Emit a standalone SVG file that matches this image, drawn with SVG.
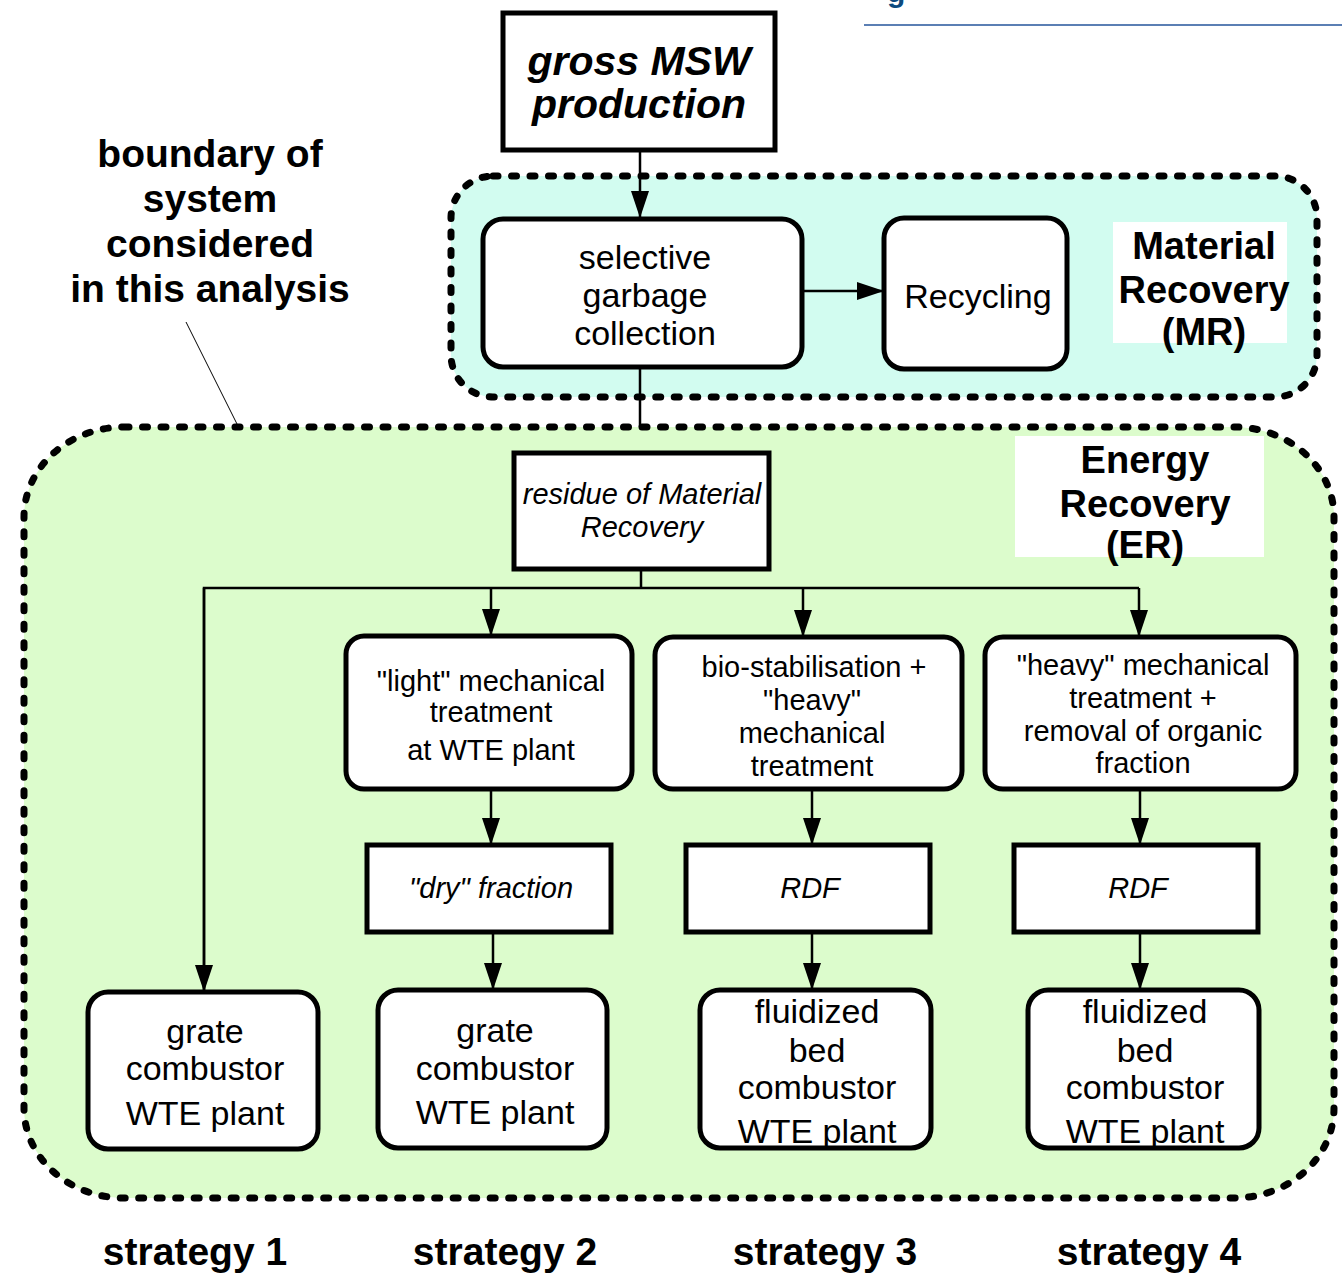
<svg xmlns="http://www.w3.org/2000/svg" width="1342" height="1283" viewBox="0 0 1342 1283">
  <style>
    .t { font-family: "Liberation Sans", Arial, sans-serif; fill: #000; text-anchor: middle; }
    .b { font-weight: bold; }
    .i { font-style: italic; }
    .s34 { font-size: 34px; }
    .s29 { font-size: 29px; }
    .s38 { font-size: 38px; }
    .s39 { font-size: 39px; }
    .box { fill: #fff; stroke: #000; stroke-width: 5; }
    .zone { stroke: #000; stroke-width: 7; stroke-dasharray: 5 13.5; stroke-linecap: round; }
    .conn { fill: none; stroke: #000; stroke-width: 2.5; }
    .lab { fill: #fff; }
  </style>
  <defs>
    <marker id="ah" markerUnits="userSpaceOnUse" markerWidth="28" markerHeight="20" refX="27" refY="9" orient="auto">
      <path d="M0,0 L27,9 L0,18 z" fill="#000"/>
    </marker>
  </defs>

  <rect width="1342" height="1283" fill="#fff"/>

  <!-- page header remnant -->
  <text x="887" y="2" font-family="Liberation Sans, Arial, sans-serif" font-weight="bold" font-size="30" fill="#0d4a7e">g</text>
  <line x1="864" y1="25" x2="1342" y2="25" stroke="#5b7fb4" stroke-width="2"/>

  <!-- system boundaries -->
  <g id="zone-er">
    <rect class="zone" x="24" y="427" width="1310" height="771" rx="100" ry="90" fill="#dcfccc"/>
    <rect class="lab" x="1015" y="436" width="249" height="121"/>
    <text class="t b s38" x="1145" y="473">Energy</text>
    <text class="t b s38" x="1145" y="517">Recovery</text>
    <text class="t b s38" x="1145" y="558">(ER)</text>
  </g>
  <g id="zone-mr">
    <rect class="zone" x="451" y="176" width="866" height="221" rx="42" ry="42" fill="#d2fcf0"/>
    <rect class="lab" x="1113" y="222" width="174" height="121"/>
    <text class="t b s38" x="1204" y="259">Material</text>
    <text class="t b s38" x="1204" y="303">Recovery</text>
    <text class="t b s38" x="1204" y="345">(MR)</text>
  </g>

  <!-- boundary annotation -->
  <g id="boundary-note">
    <text class="t b s39" x="210" y="167">boundary of</text>
    <text class="t b s39" x="210" y="212">system</text>
    <text class="t b s39" x="210" y="257">considered</text>
    <text class="t b s39" x="210" y="302">in this analysis</text>
    <line x1="186" y1="322" x2="238" y2="426" stroke="#000" stroke-width="1"/>
  </g>

  <!-- connectors -->
  <g id="connectors">
    <line class="conn" x1="640" y1="150" x2="640" y2="218" marker-end="url(#ah)"/>
    <line class="conn" x1="802" y1="291" x2="884" y2="291" marker-end="url(#ah)"/>
    <line class="conn" x1="640" y1="367" x2="640" y2="427"/>
    <polyline class="conn" points="641,569 641,588"/>
    <polyline class="conn" points="204,992 204,588 1139,588"/>
    <line class="conn" x1="204" y1="588" x2="204" y2="992" marker-end="url(#ah)"/>
    <line class="conn" x1="491" y1="588" x2="491" y2="636" marker-end="url(#ah)"/>
    <line class="conn" x1="803" y1="588" x2="803" y2="637" marker-end="url(#ah)"/>
    <line class="conn" x1="1139" y1="588" x2="1139" y2="637" marker-end="url(#ah)"/>
    <line class="conn" x1="491" y1="789" x2="491" y2="845" marker-end="url(#ah)"/>
    <line class="conn" x1="812" y1="789" x2="812" y2="845" marker-end="url(#ah)"/>
    <line class="conn" x1="1140" y1="789" x2="1140" y2="845" marker-end="url(#ah)"/>
    <line class="conn" x1="493" y1="932" x2="493" y2="990" marker-end="url(#ah)"/>
    <line class="conn" x1="812" y1="932" x2="812" y2="990" marker-end="url(#ah)"/>
    <line class="conn" x1="1140" y1="932" x2="1140" y2="990" marker-end="url(#ah)"/>
  </g>

  <!-- nodes -->
  <g id="gross-msw">
    <rect class="box" x="503" y="13" width="272" height="137"/>
    <text class="t b i" font-size="41" x="639" y="75">gross MSW</text>
    <text class="t b i" font-size="41" x="639" y="118">production</text>
  </g>
  <g id="selective-collection">
    <rect class="box" x="483" y="219" width="319" height="148" rx="20"/>
    <text class="t s34" x="645" y="269">selective</text>
    <text class="t s34" x="645" y="307">garbage</text>
    <text class="t s34" x="645" y="345">collection</text>
  </g>
  <g id="recycling">
    <rect class="box" x="884" y="218" width="183" height="151" rx="20"/>
    <text class="t s34" x="978" y="308">Recycling</text>
  </g>
  <g id="residue">
    <rect class="box" x="514" y="453" width="255" height="116"/>
    <text class="t i s29" x="642" y="504">residue of Material</text>
    <text class="t i s29" x="642" y="537">Recovery</text>
  </g>
  <g id="light-treatment">
    <rect class="box" x="346" y="636" width="286" height="153" rx="18"/>
    <text class="t s29" x="491" y="691">"light" mechanical</text>
    <text class="t s29" x="491" y="722">treatment</text>
    <text class="t s29" x="491" y="760">at WTE plant</text>
  </g>
  <g id="bio-stabilisation">
    <rect class="box" x="655" y="637" width="307" height="152" rx="18"/>
    <text class="t s29" x="814" y="677">bio-stabilisation +</text>
    <text class="t s29" x="812" y="710">"heavy"</text>
    <text class="t s29" x="812" y="743">mechanical</text>
    <text class="t s29" x="812" y="776">treatment</text>
  </g>
  <g id="heavy-treatment">
    <rect class="box" x="985" y="637" width="311" height="152" rx="18"/>
    <text class="t s29" x="1143" y="675">"heavy" mechanical</text>
    <text class="t s29" x="1143" y="708">treatment +</text>
    <text class="t s29" x="1143" y="741">removal of organic</text>
    <text class="t s29" x="1143" y="773">fraction</text>
  </g>
  <g id="dry-fraction">
    <rect class="box" x="367" y="845" width="244" height="87"/>
    <text class="t i s29" x="491" y="898">"dry" fraction</text>
  </g>
  <g id="rdf-3">
    <rect class="box" x="686" y="845" width="244" height="87"/>
    <text class="t i s29" x="810" y="898">RDF</text>
  </g>
  <g id="rdf-4">
    <rect class="box" x="1014" y="845" width="244" height="87"/>
    <text class="t i s29" x="1138" y="898">RDF</text>
  </g>
  <g id="grate-1">
    <rect class="box" x="88" y="992" width="230" height="157" rx="20"/>
    <text class="t s34" x="205" y="1043">grate</text>
    <text class="t s34" x="205" y="1080">combustor</text>
    <text class="t s34" x="205" y="1125">WTE plant</text>
  </g>
  <g id="grate-2">
    <rect class="box" x="378" y="990" width="229" height="158" rx="20"/>
    <text class="t s34" x="495" y="1042">grate</text>
    <text class="t s34" x="495" y="1080">combustor</text>
    <text class="t s34" x="495" y="1124">WTE plant</text>
  </g>
  <g id="fluidized-3">
    <rect class="box" x="700" y="990" width="231" height="158" rx="20"/>
    <text class="t s34" x="817" y="1023">fluidized</text>
    <text class="t s34" x="817" y="1062">bed</text>
    <text class="t s34" x="817" y="1099">combustor</text>
    <text class="t s34" x="817" y="1143">WTE plant</text>
  </g>
  <g id="fluidized-4">
    <rect class="box" x="1028" y="990" width="231" height="158" rx="20"/>
    <text class="t s34" x="1145" y="1023">fluidized</text>
    <text class="t s34" x="1145" y="1062">bed</text>
    <text class="t s34" x="1145" y="1099">combustor</text>
    <text class="t s34" x="1145" y="1143">WTE plant</text>
  </g>

  <!-- strategy captions -->
  <g id="strategies">
    <text class="t b s39" x="195" y="1265">strategy 1</text>
    <text class="t b s39" x="505" y="1265">strategy 2</text>
    <text class="t b s39" x="825" y="1265">strategy 3</text>
    <text class="t b s39" x="1149" y="1265">strategy 4</text>
  </g>
</svg>
